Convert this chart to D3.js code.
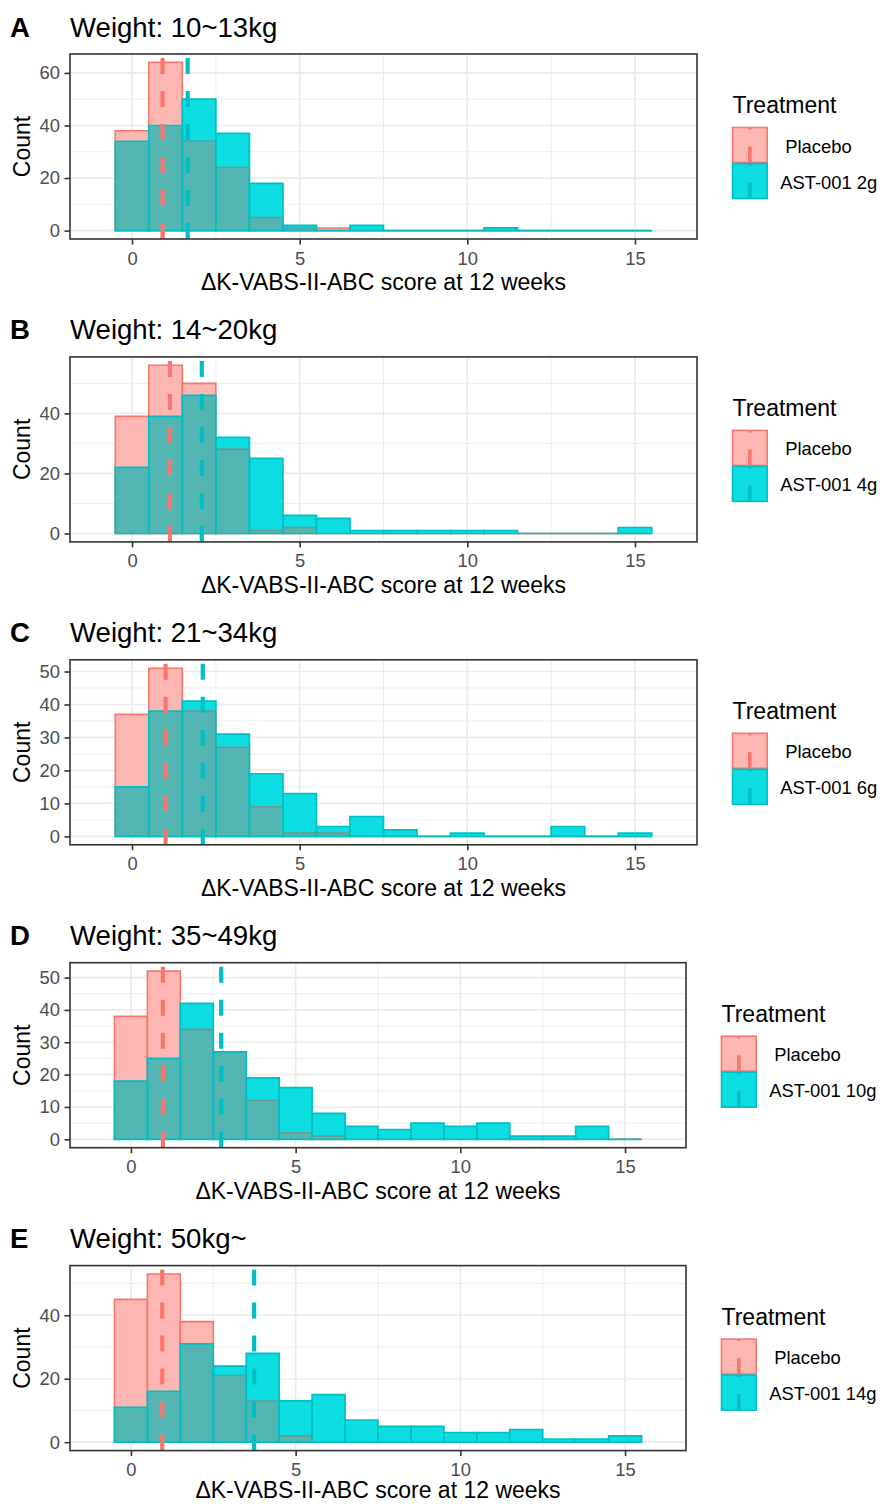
<!DOCTYPE html>
<html>
<head>
  <meta charset="utf-8">
  <script src="https://d3js.org/d3.v7.min.js"></script>
  <style>
    body { margin: 0; background: #fff; }
    text { font-family: "Liberation Sans", Arial, sans-serif; }
  </style>
</head>
<body>
<script type="text/javascript">

  "use strict";

  /* data: histogram counts per bin (bins of width 1 centred on 0..15) */

  var binCenters = [0, 1, 2, 3, 4, 5, 6, 7, 8, 9, 10, 11, 12, 13, 14, 15];

  var panelLetters = ["A", "B", "C", "D", "E"];
  var panelTitles = ["Weight: 10~13kg", "Weight: 14~20kg", "Weight: 21~34kg", "Weight: 35~49kg", "Weight: 50kg~"];
  var doseLabels = ["AST-001 2g", "AST-001 4g", "AST-001 6g", "AST-001 10g", "AST-001 14g"];

  var placeboA = [38, 64, 34, 24, 5, 1, 1, 0, 0, 0, 0, 0, 0, 0, 0, 0];
  var astA     = [34, 40, 50, 37, 18, 2, 0, 2, 0, 0, 0, 1, 0, 0, 0, 0];

  var placeboB = [39, 56, 50, 28, 1, 2, 0, 0, 0, 0, 0, 0, 0, 0, 0, 0];
  var astB     = [22, 39, 46, 32, 25, 6, 5, 1, 1, 1, 1, 1, 0, 0, 0, 2];

  var placeboC = [37, 51, 38, 27, 9, 1, 1, 0, 0, 0, 0, 0, 0, 0, 0, 0];
  var astC     = [15, 38, 41, 31, 19, 13, 3, 6, 2, 0, 1, 0, 0, 3, 0, 1];

  var placeboD = [38, 52, 34, 27, 12, 2, 1, 0, 0, 0, 0, 0, 0, 0, 0, 0];
  var astD     = [18, 25, 42, 27, 19, 16, 8, 4, 3, 5, 4, 5, 1, 1, 4, 0];

  var placeboE = [45, 53, 38, 21, 13, 2, 0, 0, 0, 0, 0, 0, 0, 0, 0, 0];
  var astE     = [11, 16, 31, 24, 28, 13, 15, 7, 5, 5, 3, 3, 4, 1, 1, 2];

  var placeboMeans = [0.91, 1.13, 1.00, 0.97, 0.95];
  var astMeans     = [1.66, 2.08, 2.11, 2.74, 3.74];

  var xTicks = [0, 5, 10, 15];
  var yTicksA = [0, 20, 40, 60];
  var yTicksB = [0, 20, 40];
  var yTicksC = [0, 10, 20, 30, 40, 50];
  var yTicksD = [0, 10, 20, 30, 40, 50];
  var yTicksE = [0, 20, 40];

  var xLabel = "\u0394K-VABS-II-ABC score at 12 weeks";
  var yLabel = "Count";
  var legendTitle = "Treatment";
  var placeboLabel = "Placebo";

  var panels = [
    {placebo: placeboA, ast: astA, yTicks: yTicksA},
    {placebo: placeboB, ast: astB, yTicks: yTicksB},
    {placebo: placeboC, ast: astC, yTicks: yTicksC},
    {placebo: placeboD, ast: astD, yTicks: yTicksD},
    {placebo: placeboE, ast: astE, yTicks: yTicksE}
  ];

/*************************************************************************************************/
/* styles */

  var red = "#F8766D", cyan = "#00BFC4";
  var pinkFill = "#FDB7B2", cyanFill = "#0CDDE0", overlapFill = "#54B6B2", hiddenEdge = "#6E9694";
  var gridCol = "#EBEBEB", axisCol = "#333333", tickTextCol = "#4D4D4D";

  var W = 880, H = 1504;
  var blockH = 302.9;
  var panelLeft = 70, panelTop = 54, panelBottom = 239;

  var svg = d3.select("body").append("svg")
              .attr("width", W).attr("height", H);

  svg.append("rect").attr("width", W).attr("height", H).attr("fill", "#fff");

  function barPath(x, y, c, v) {
    var x0 = x(c - 0.5), x1 = x(c + 0.5), y0 = y(0), y1 = y(v);
    return "M" + x0 + "," + y0 + "V" + y1 + "H" + x1 + "V" + y0 + "Z";
  }

  function minorOf(ticks, dom) {
    var step = ticks[1] - ticks[0];
    var out = [ticks[0] - step / 2].concat(ticks.map(function(t) { return t + step / 2; }));
    return out.filter(function(v) { return v > dom[0] && v < dom[1]; });
  }

/*************************************************************************************************/
/* one panel per weight group */

  panels.forEach(function(p, i) {

    var g = svg.append("g").attr("transform", "translate(0," + (i * blockH) + ")");
    var panelRight = i < 3 ? 697 : 686;

    var x = d3.scaleLinear().domain([-1.85, 16.85]).range([panelLeft, panelRight]);
    var maxC = d3.max(p.placebo.concat(p.ast));
    var y = d3.scaleLinear().domain([-0.05 * maxC, 1.05 * maxC]).range([panelBottom, panelTop]);

    var bins = binCenters.map(function(c, k) {
      return {c: c, p: p.placebo[k], a: p.ast[k]};
    });

    // grid
    var grid = g.append("g");
    grid.selectAll("line.minx").data(minorOf(xTicks, x.domain())).enter().append("line")
        .attr("x1", x).attr("x2", x).attr("y1", panelTop).attr("y2", panelBottom)
        .attr("stroke", gridCol).attr("stroke-width", 0.9);
    grid.selectAll("line.miny").data(minorOf(p.yTicks, y.domain())).enter().append("line")
        .attr("x1", panelLeft).attr("x2", panelRight).attr("y1", y).attr("y2", y)
        .attr("stroke", gridCol).attr("stroke-width", 0.9);
    grid.selectAll("line.majx").data(xTicks).enter().append("line")
        .attr("x1", x).attr("x2", x).attr("y1", panelTop).attr("y2", panelBottom)
        .attr("stroke", gridCol).attr("stroke-width", 1.7);
    grid.selectAll("line.majy").data(p.yTicks).enter().append("line")
        .attr("x1", panelLeft).attr("x2", panelRight).attr("y1", y).attr("y2", y)
        .attr("stroke", gridCol).attr("stroke-width", 1.7);

    // placebo bars
    g.append("g").selectAll("path").data(bins).enter().append("path")
        .attr("d", function(d) { return barPath(x, y, d.c, d.p); })
        .attr("fill", pinkFill).attr("stroke", red).attr("stroke-width", 1.6);

    // AST-001 bars
    g.append("g").selectAll("path").data(bins).enter().append("path")
        .attr("d", function(d) { return barPath(x, y, d.c, d.a); })
        .attr("fill", cyanFill).attr("stroke", "none");

    // where both groups overlap
    g.append("g").selectAll("path").data(bins.filter(function(d) { return Math.min(d.p, d.a) > 0; }))
        .enter().append("path")
        .attr("d", function(d) { return barPath(x, y, d.c, Math.min(d.p, d.a)); })
        .attr("fill", overlapFill);

    // placebo top edges seen through the AST-001 bars
    g.append("g").selectAll("line").data(bins.filter(function(d) { return d.p > 0 && d.p < d.a; }))
        .enter().append("line")
        .attr("x1", function(d) { return x(d.c - 0.5); })
        .attr("x2", function(d) { return x(d.c + 0.5); })
        .attr("y1", function(d) { return y(d.p); })
        .attr("y2", function(d) { return y(d.p); })
        .attr("stroke", hiddenEdge).attr("stroke-width", 1.6);

    // AST-001 outlines
    g.append("g").selectAll("path").data(bins).enter().append("path")
        .attr("d", function(d) { return barPath(x, y, d.c, d.a); })
        .attr("fill", "none").attr("stroke", cyan).attr("stroke-width", 1.7);

    // mean lines
    [[placeboMeans[i], red], [astMeans[i], cyan]].forEach(function(m) {
      g.append("path")
        .attr("d", "M" + x(m[0]) + "," + panelBottom + "V" + panelTop)
        .attr("stroke", m[1]).attr("stroke-width", 4.2)
        .attr("stroke-dasharray", "16 17");
    });

    // border
    g.append("rect")
      .attr("x", panelLeft).attr("y", panelTop)
      .attr("width", panelRight - panelLeft).attr("height", panelBottom - panelTop)
      .attr("fill", "none").attr("stroke", axisCol).attr("stroke-width", 1.6);

    // axes
    var xAxis = g.append("g").attr("transform", "translate(0," + panelBottom + ")")
      .call(d3.axisBottom(x).tickValues(xTicks).tickSize(5.5).tickPadding(7));
    var yAxis = g.append("g").attr("transform", "translate(" + panelLeft + ",0)")
      .call(d3.axisLeft(y).tickValues(p.yTicks).tickSize(5.5).tickPadding(4.5));
    [xAxis, yAxis].forEach(function(ax) {
      ax.select(".domain").remove();
      ax.selectAll(".tick line").attr("stroke", axisCol).attr("stroke-width", 1.6);
      ax.selectAll(".tick text").attr("fill", tickTextCol)
        .style("font-size", "18.4px").style("font-family", "Liberation Sans, Arial, sans-serif");
    });

    // keep the last axis title inside the page
    var titleY = Math.min(290, H - 5.5 - i * blockH);
    g.append("text")
      .attr("x", (panelLeft + panelRight) / 2).attr("y", titleY)
      .attr("text-anchor", "middle").style("font-size", "23px")
      .text(xLabel);

    g.append("text")
      .attr("transform", "translate(29.5," + ((panelTop + panelBottom) / 2) + ") rotate(-90)")
      .attr("text-anchor", "middle").style("font-size", "23px")
      .text(yLabel);

    // heading
    g.append("text").attr("x", 10).attr("y", 36.5)
      .style("font-size", "27.6px").style("font-weight", "bold")
      .text(panelLetters[i]);
    g.append("text").attr("x", panelLeft).attr("y", 36.5)
      .style("font-size", "27.6px")
      .text(panelTitles[i]);

/*************************************************************************************************/
/* legend */

    var lx = panelRight + 35.5;
    var legend = g.append("g").attr("class", "legend");

    legend.append("text").attr("x", lx).attr("y", 113)
      .style("font-size", "23px").text(legendTitle);

    var keys = [
      {label: placeboLabel, fill: pinkFill, col: red, dx: 18},
      {label: doseLabels[i], fill: cyanFill, col: cyan, dx: 13}
    ];

    keys.forEach(function(k, j) {
      var ky = 127.5 + j * 36;
      legend.append("rect")
        .attr("x", lx).attr("y", ky).attr("width", 34.7).attr("height", 35)
        .attr("fill", k.fill).attr("stroke", k.col).attr("stroke-width", 1.6);
      legend.append("path")
        .attr("d", "M" + (lx + 17.35) + "," + (ky + 35) + "V" + ky)
        .attr("stroke", k.col).attr("stroke-width", 3.6)
        .attr("stroke-dasharray", "16 17");
      legend.append("text")
        .attr("x", lx + 34.7 + k.dx).attr("y", ky + 17.5 + 7.5)
        .style("font-size", "18.4px").text(k.label);
    });

  });

</script>
</body>
</html>
